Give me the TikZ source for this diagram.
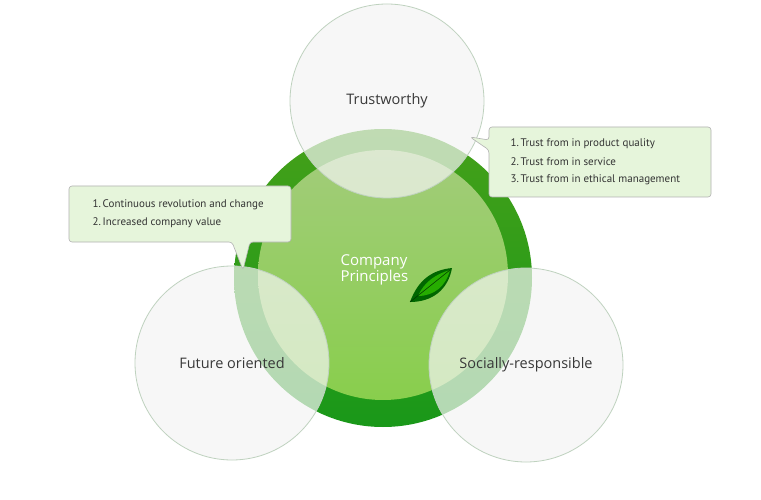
\documentclass[tikz,border=0pt]{standalone}
\usepackage{fontspec}
\setmainfont{Open Sans}
\newfontfamily\calloutfont{PT Sans}
\begin{document}
\begin{tikzpicture}[x=1pt,y=-1pt,
  petal/.style={circle,draw=green!30!black!25,line width=0.8pt,fill=white!96!black,fill opacity=0.7,minimum size=194pt,inner sep=0pt},
  lbl/.style={font=\fontsize{14.5}{16}\selectfont,text=black!78},
  callout/.style={draw=black!30,fill=yellow!30!green!14!white,rounded corners=3pt,line width=0.6pt},
  ctext/.style={font=\calloutfont\fontsize{11}{14}\selectfont,text=black!80,align=left,anchor=west}]
\useasboundingbox (0,0) rectangle (761,500);
\fill[white] (0,0) rectangle (761,500);
% central circles
\node[circle,minimum size=298pt,inner sep=0pt,top color=green!45!black!75!lime!90,bottom color=green!55!black!90,shading angle=0] (big) at (383,278) {};
\shade[top color=green!35!lime!40!white!80!black,bottom color=green!50!black!55!lime!70] (383,275) circle (125);
% petals
\node[petal] (tr) at (387,101) {};
\node[petal] (fo) at (232,363) {};
\node[petal] (sr) at (526,365) {};
\node[lbl] at (tr.center) {Trustworthy};
\node[lbl] at (fo.center) {Future oriented};
\node[lbl] at (sr.center) {Socially-responsible};
\node[font=\fontsize{15}{16}\selectfont,text=white,align=left,anchor=west] (cp) at (337,270) {Company\\Principles};
% leaf
\coordinate (lf1) at (410,302);
\coordinate (lf2) at (452,268);
\fill[green!40!black] (lf1) .. controls (418,280) and (432,270) .. (lf2) .. controls (448,290) and (432,302) .. (lf1);
\fill[green!60!black!80!lime] (418,296) .. controls (424,282) and (436,274) .. (450,270) .. controls (446,286) and (434,296) .. (418,296);
\draw[green!20!black,line width=0.5pt] (lf1) -- (450,270);
% right callout
\draw[callout] (489,140) -- (470,137) -- (489,150) -- (489,197) -- (711,197) -- (711,127) -- (489,127) -- cycle;
\node[ctext] (r1) at (507,144) {1.\,Trust from in product quality};
\node[ctext] (r2) at (507,162) {2.\,Trust from in service};
\node[ctext] (r3) at (507,180) {3.\,Trust from in ethical management};
% left callout
\draw[callout] (69,186) -- (291,186) -- (291,242) -- (250,242) -- (243,270) -- (232,242) -- (69,242) -- cycle;
\node[ctext] (l1) at (89,205) {1.\,Continuous revolution and change};
\node[ctext] (l2) at (89,223) {2.\,Increased company value};
\end{tikzpicture}
\end{document}
